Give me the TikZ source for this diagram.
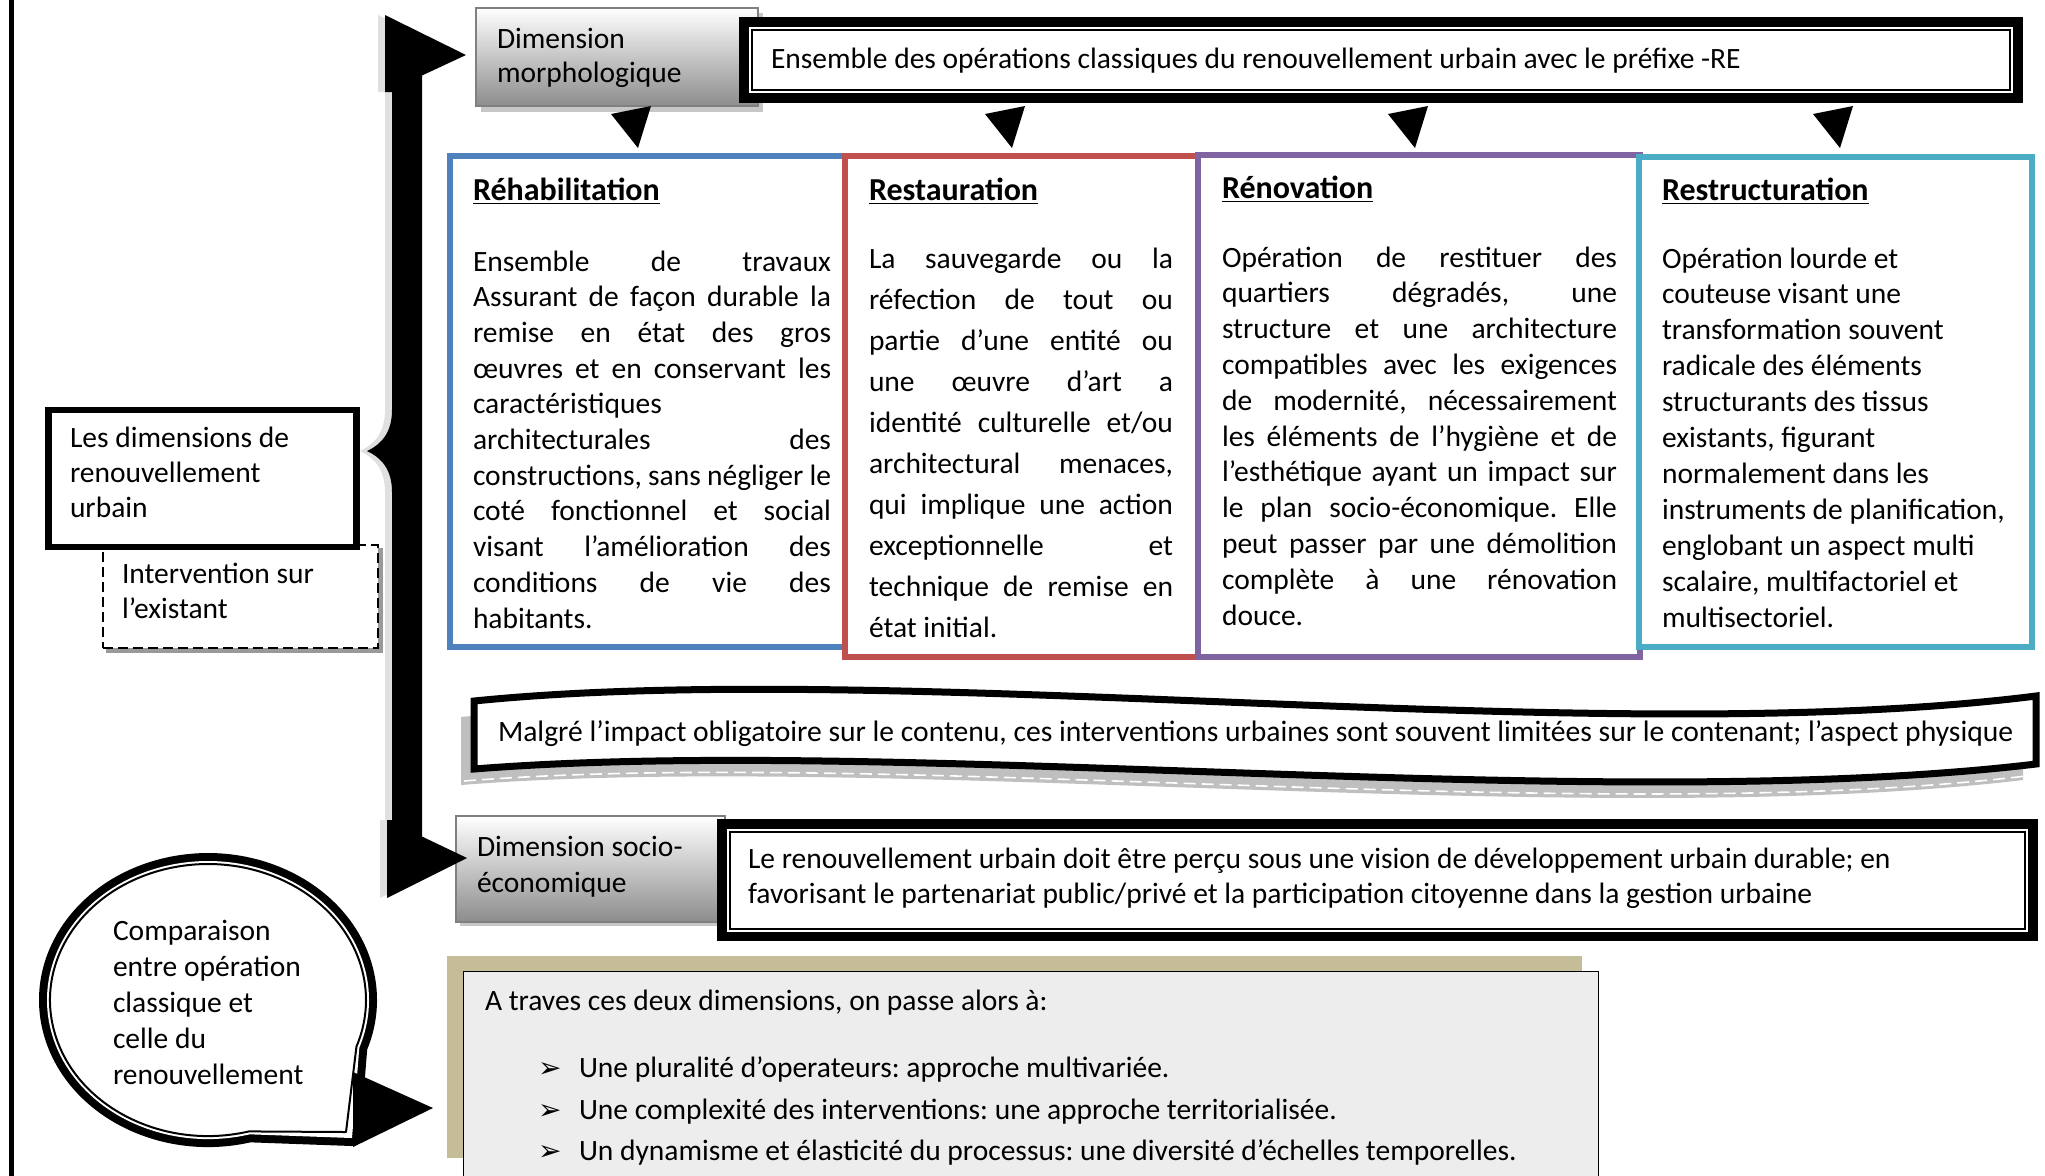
\documentclass[tikz,border=0pt]{standalone}
\usepackage{fontspec}
\setmainfont{Carlito}
\newfontfamily\symfont{DejaVu Sans}
\usetikzlibrary{calc}
\definecolor{cBlue}{HTML}{4F81BD}
\definecolor{cRed}{HTML}{C0504D}
\definecolor{cPurple}{HTML}{8064A2}
\definecolor{cCyan}{HTML}{4BACC6}
\definecolor{cTan}{HTML}{C4BD97}
\definecolor{cPaper}{HTML}{EDEDED}
\newcommand\myjl[1]{\hbox to \hsize{#1}}
\newcommand\myrl[1]{\hbox{#1}}
\newcommand\jblock[2]{\vtop{\hsize=#1\spaceskip=.226em plus 1fil minus .06em\relax #2}}
\newcommand\rblock[1]{\vtop{#1}}
\frenchspacing
\begin{document}
\begin{tikzpicture}[x=0.5pt,y=-0.5pt,
  txt/.style={inner sep=0pt, outer sep=0pt, anchor=base west, align=left, font=\fontsize{14.75pt}{17.5pt}\selectfont},
  ttl/.style={inner sep=0pt, outer sep=0pt, anchor=base west, font=\fontsize{16pt}{18pt}\selectfont\bfseries},
  opbox/.style={rectangle, inner sep=0pt, outer sep=0pt, anchor=north west, line width=3pt, fill=white},
  gradbox/.style={rectangle, inner sep=0pt, outer sep=0pt, anchor=north west, draw=black!50, line width=0.8pt, top color=white, bottom color=black!45},
  dblbox/.style={rectangle, inner sep=0pt, outer sep=0pt, anchor=north west, fill=black},
  wedgearrow/.style={fill=black},
  bullet/.style={inner sep=0pt, outer sep=0pt, anchor=base west, font=\symfont\fontsize{14pt}{16pt}\selectfont},
]
\useasboundingbox (0,0) rectangle (2045,1175);
\fill[white] (0,0) rectangle (2045,1175);

% left rule
\draw[line width=2.5pt] (11,-10) -- (11,1190);

% ---------- Dimension morphologique
\fill[black!22] (481,13) rectangle (763,112);
\node[gradbox, minimum width=141pt, minimum height=49pt] (dimmorph) at (476,8) {};
\node[txt, font=\fontsize{14.75pt}{17pt}\selectfont] (dimmorphtxt) at (497,48) {\rblock{\myrl{Dimension}\myrl{morphologique}}};

% ---------- top double box
\node[dblbox, minimum width=642pt, minimum height=43pt] (ens) at (739,17) {};
\fill[white] (749,27) rectangle (2013,93);
\draw[line width=1pt] (752,30) rectangle (2010,90);
\node[txt] (enstxt) at (771,68) {Ensemble des opérations classiques du renouvellement urbain avec le préfixe -RE};

% ---------- wedge arrows
\foreach \cx in {638,1012,1415,1840}{
  \fill[wedgearrow] (\cx-27,114) -- (\cx+13,106) -- (\cx,148) -- cycle;
}

% ---------- operation boxes
\node[opbox, draw=cBlue, minimum width=197.5pt, minimum height=245.5pt] (rehab) at (450,156) {};
\node[opbox, draw=cRed, minimum width=176.5pt, minimum height=250.5pt] (restau) at (845,156) {};
\node[opbox, draw=cPurple, minimum width=221pt, minimum height=251pt] (renov) at (1198,155) {};
\node[opbox, draw=cCyan, minimum width=196.5pt, minimum height=245pt] (restruct) at (1639,157) {};

\node[ttl] (rehabttl) at (473,200) {\underline{Réhabilitation}};
\node[ttl] (restauttl) at (869,200) {\underline{Restauration}};
\node[ttl] (renovttl) at (1222,198) {\underline{Rénovation}};
\node[ttl] (restructttl) at (1662,200) {\underline{Restructuration}};

\node[txt, font=\fontsize{14.75pt}{17.85pt}\selectfont] (rehabtxt) at (473,271) {\jblock{179pt}{%
\myjl{Ensemble de travaux}%
\myjl{Assurant de façon durable la}%
\myjl{remise en état des gros}%
\myjl{œuvres et en conservant les}%
\myrl{caractéristiques}%
\myjl{architecturales des}%
\myjl{constructions, sans négliger le}%
\myjl{coté fonctionnel et social}%
\myjl{visant l’amélioration des}%
\myjl{conditions de vie des}%
\myrl{habitants.}}};

\node[txt, font=\fontsize{14.75pt}{20.55pt}\selectfont] (restautxt) at (869,268) {\jblock{152pt}{%
\myjl{La sauvegarde ou la}%
\myjl{réfection de tout ou}%
\myjl{partie d’une entité ou}%
\myjl{une œuvre d’art a}%
\myjl{identité culturelle et/ou}%
\myjl{architectural menaces,}%
\myjl{qui implique une action}%
\myjl{exceptionnelle et}%
\myjl{technique de remise en}%
\myrl{état initial.}}};

\node[txt, font=\fontsize{14.75pt}{17.9pt}\selectfont] (renovtxt) at (1222,267) {\jblock{197.5pt}{%
\myjl{Opération de restituer des}%
\myjl{quartiers dégradés, une}%
\myjl{structure et une architecture}%
\myjl{compatibles avec les exigences}%
\myjl{de modernité, nécessairement}%
\myjl{les éléments de l’hygiène et de}%
\myjl{l’esthétique ayant un impact sur}%
\myjl{le plan socio-économique. Elle}%
\myjl{peut passer par une démolition}%
\myjl{complète à une rénovation}%
\myrl{douce.}}};

\node[txt, font=\fontsize{14.75pt}{17.95pt}\selectfont] (restructtxt) at (1662,268) {\rblock{%
\myrl{Opération lourde et}%
\myrl{couteuse visant une}%
\myrl{transformation souvent}%
\myrl{radicale des éléments}%
\myrl{structurants des tissus}%
\myrl{existants, figurant}%
\myrl{normalement dans les}%
\myrl{instruments de planification,}%
\myrl{englobant un aspect multi}%
\myrl{scalaire, multifactoriel et}%
\myrl{multisectoriel.}}};

% ---------- banner
\newcommand\bannerpath{(474,701) .. controls (900,658) and (1600,751) .. (2036,696) -- (2036,764) .. controls (1600,816) and (900,735) .. (474,769) -- cycle}
\fill[black!25, shift={(-13,16)}] \bannerpath;
\draw[white, line width=0.8pt, dash pattern=on 6pt off 3pt, shift={(-10,12)}] (474,769) .. controls (900,735) and (1600,816) .. (2036,764);
\draw[line width=3.5pt, fill=white] \bannerpath;
\node[txt, font=\fontsize{14.8pt}{17.5pt}\selectfont] (bantxt) at (498,741) {Malgré l’impact obligatoire sur le contenu, ces interventions urbaines sont souvent limitées sur le contenant; l’aspect physique};

% ---------- Dimension socio-economique
\fill[black!22] (460,820) rectangle (729,926);
\node[gradbox, minimum width=134.5pt, minimum height=53pt] (dimsocio) at (456,816) {};
\node[txt, font=\fontsize{14.75pt}{18pt}\selectfont] (dimsociotxt) at (477,856) {\rblock{\myrl{Dimension socio-}\myrl{économique}}};

\node[dblbox, minimum width=660.5pt, minimum height=61pt] (socio) at (717,819) {};
\fill[white] (727,829) rectangle (2028,932);
\draw[line width=1pt] (730,832) rectangle (2025,929);
\node[txt, font=\fontsize{14.75pt}{17.5pt}\selectfont] (sociotxt) at (748,868) {\rblock{%
\myrl{Le renouvellement urbain doit être perçu sous une vision de développement urbain durable; en}%
\myrl{favorisant le partenariat public/privé et la participation citoyenne dans la gestion urbaine}}};

% ---------- brace arrow
\newcommand\bracepath{(385,15) -- (466,55) -- (422,75.5) -- (422,836.5) -- (467,858) -- (387,898) -- (387,820) -- (392,820) -- (392,492) .. controls (392,470) and (382,458) .. (367,451) .. controls (382,444) and (392,432) .. (392,410) -- (392,92) -- (385,92) -- cycle}
\fill[black!12, shift={(-7,0)}] \bracepath;
\fill[black] \bracepath;

% ---------- left labels
\fill[black!40] (106,548) rectangle (383,653);
\node[rectangle, draw, fill=white, line width=1.2pt, dash pattern=on 5pt off 2.5pt, inner sep=0pt, anchor=north west, minimum width=137.5pt, minimum height=51.5pt] (interv) at (102,544) {};
\node[txt] (intervtxt) at (122,583) {\rblock{\myrl{Intervention sur}\myrl{l’existant}}};

\node[rectangle, draw, fill=white, line width=3.25pt, inner sep=0pt, anchor=north west, minimum width=154pt, minimum height=68.5pt] (dims) at (45,406.5) {};
\node[txt] (dimstxt) at (70,447) {\rblock{\myrl{Les dimensions de}\myrl{renouvellement}\myrl{urbain}}};

% ---------- conclusion box
\fill[cTan] (447,956) rectangle (1582,1158);
\node[rectangle, draw, fill=cPaper, line width=0.6pt, inner sep=0pt, anchor=north west, minimum width=567.5pt, minimum height=112pt] (concl) at (463,971) {};
\node[txt] (concl0) at (485,1010) {A traves ces deux dimensions, on passe alors à:};
\node[bullet] (bul1) at (538,1077) {➢};
\node[bullet] (bul2) at (538,1119) {➢};
\node[bullet] (bul3) at (538,1160) {➢};
\node[txt] (concl1) at (579,1077) {Une pluralité d’operateurs: approche multivariée.};
\node[txt] (concl2) at (579,1119) {Une complexité des interventions: une approche territorialisée.};
\node[txt] (concl3) at (579,1160) {Un dynamisme et élasticité du processus: une diversité d’échelles temporelles.};

% ---------- speech bubble
\coordinate (bubblec) at (208,1000);
\draw[line width=8pt, line join=round] (352,1138) -- (249.7,1134.3) arc[start angle=75, end angle=380, x radius=161, y radius=139] -- cycle;
\fill[white] (352,1138) -- (249.7,1134.3) arc[start angle=75, end angle=380, x radius=161, y radius=139] -- cycle;
\draw[line width=1pt, line join=round] (346,1132) -- (248.9,1131.4) arc[start angle=75, end angle=380, x radius=158, y radius=136] -- cycle;
\node[txt, font=\fontsize{14.75pt}{18pt}\selectfont] (bubbletxt) at (113,940) {\rblock{\myrl{Comparaison}\myrl{entre opération}\myrl{classique et}\myrl{celle du}\myrl{renouvellement}}};
\fill[wedgearrow] (353,1072) -- (433,1108) -- (353,1147) -- cycle;
\end{tikzpicture}
\end{document}
